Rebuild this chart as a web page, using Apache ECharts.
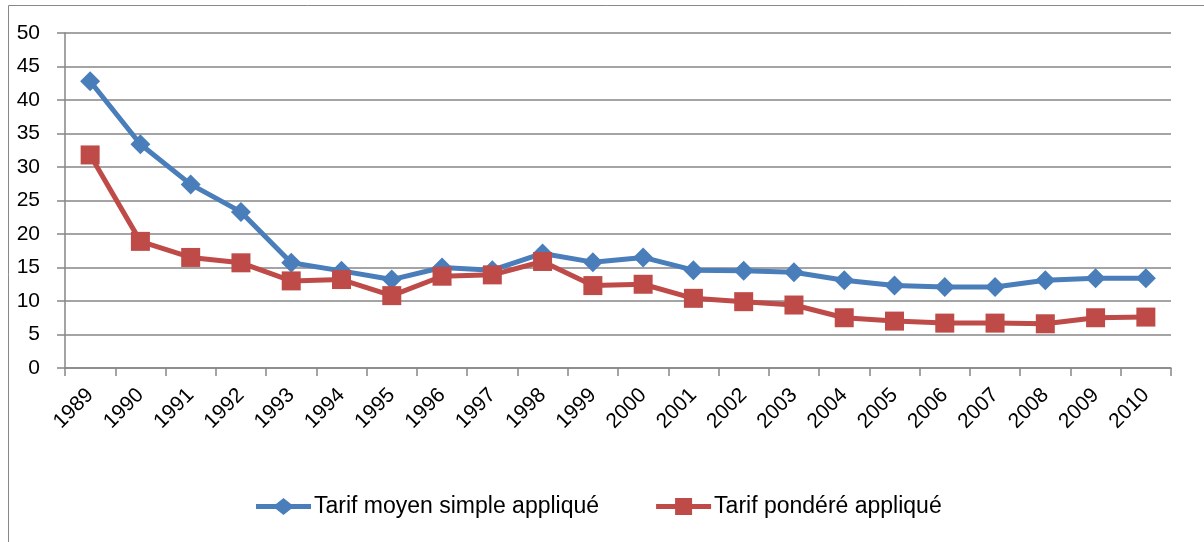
<!DOCTYPE html>
<html>
<head>
<meta charset="utf-8">
<script src="https://cdn.jsdelivr.net/npm/echarts@6/dist/echarts.min.js"></script>
<style>
  html, body { margin: 0; padding: 0; background: #fff; }
  #chart { width: 1204px; height: 542px; }
</style>
</head>
<body>
<div id="chart"></div>
<script>
const years = ["1989", "1990", "1991", "1992", "1993", "1994", "1995", "1996", "1997", "1998", "1999",
  "2000", "2001", "2002", "2003", "2004", "2005", "2006", "2007", "2008", "2009", "2010"];
const tarifSimple = [42.8, 33.4, 27.4, 23.3, 15.7, 14.5, 13.2, 15.0, 14.6, 17.1, 15.8,
  16.5, 14.6, 14.5, 14.3, 13.1, 12.3, 12.1, 12.1, 13.1, 13.4, 13.4];
const tarifPondere = [31.8, 18.9, 16.5, 15.7, 13.0, 13.2, 10.8, 13.7, 13.9, 15.9, 12.3,
  12.5, 10.4, 9.9, 9.4, 7.5, 7.0, 6.7, 6.7, 6.6, 7.5, 7.6];
const yTicks = [0, 5, 10, 15, 20, 25, 30, 35, 40, 45, 50];

const chart = echarts.init(document.getElementById("chart"));
const axisColor = "#868686";
const blue = "#4A7EBB";
const red = "#BE4B48";
const font = "'Liberation Sans', 'DejaVu Sans', sans-serif";

// legend icons: a thick line with the marker in the middle (55 x 17 box)
const iconDiamond = "path://M0,6 L20,6 L27.5,0 L35,6 L55,6 L55,11 L35,11 L27.5,17 L20,11 L0,11 Z";
const iconSquare = "path://M0,6 L19,6 L19,0 L36,0 L36,6 L55,6 L55,11 L36,11 L36,17 L19,17 L19,11 L0,11 Z";

const option = {
  backgroundColor: "#fff",
  animation: false,
  textStyle: { fontFamily: font },
  graphic: [
    {
      type: "rect",
      shape: { x: 8.5, y: 5.5, width: 1300, height: 600 },
      style: { fill: "none", stroke: "#888", lineWidth: 1 },
      silent: true,
    },
  ],
  grid: { left: 65, right: 33, top: 33, bottom: 174 },
  legend: {
    top: 490,
    left: 251,
    itemWidth: 55,
    itemHeight: 17,
    itemGap: 57,
    textStyle: { fontSize: 23, color: "#000", fontFamily: font, padding: [0, 0, 0, -2] },
    data: [
      { name: "Tarif moyen simple appliqué", icon: iconDiamond, itemStyle: { color: blue } },
      { name: "Tarif pondéré appliqué", icon: iconSquare, itemStyle: { color: red } },
    ],
  },
  xAxis: {
    type: "category",
    data: years,
    boundaryGap: true,
    axisLine: { lineStyle: { color: axisColor, width: 1.5 } },
    axisTick: { show: true, length: 8, alignWithLabel: false, lineStyle: { color: axisColor, width: 1.5 } },
    axisLabel: { rotate: 45, fontSize: 21, color: "#000", margin: 24, interval: 0 },
    splitLine: { show: false },
  },
  yAxis: {
    type: "value",
    min: yTicks[0],
    max: yTicks[yTicks.length - 1],
    interval: 5,
    axisLine: { show: true, lineStyle: { color: axisColor, width: 1.5 } },
    axisTick: { show: true, length: 8, lineStyle: { color: axisColor, width: 1.5 } },
    axisLabel: { fontSize: 21, color: "#000", margin: 25 },
    splitLine: { show: true, lineStyle: { color: axisColor, width: 1.5 } },
  },
  series: [
    {
      name: "Tarif moyen simple appliqué",
      type: "line",
      data: tarifSimple,
      symbol: "diamond",
      symbolSize: 20,
      lineStyle: { color: blue, width: 5 },
      itemStyle: { color: blue },
      z: 2,
    },
    {
      name: "Tarif pondéré appliqué",
      type: "line",
      data: tarifPondere,
      symbol: "rect",
      symbolSize: 19,
      lineStyle: { color: red, width: 5 },
      itemStyle: { color: red },
      z: 3,
    },
  ],
};
chart.setOption(option);
</script>
</body>
</html>
